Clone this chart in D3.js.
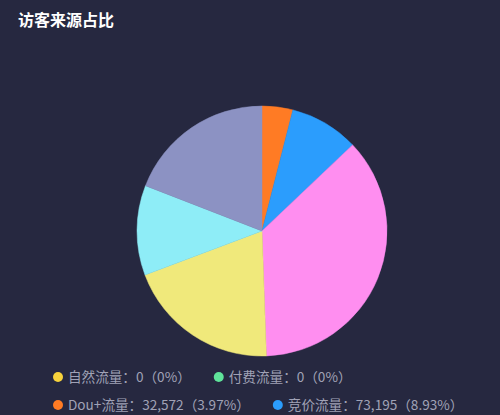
<!DOCTYPE html>
<html>
<head>
<meta charset="utf-8">
<script src="https://cdn.jsdelivr.net/npm/d3@7"></script>
<style>
  html, body { margin: 0; padding: 0; background: #262840; overflow: hidden; }
  svg { display: block; font-family: "Noto Sans CJK SC", "Noto Sans", sans-serif; }
</style>
</head>
<body>
<script>
var names = ["自然流量", "付费流量", "Dou+流量", "竞价流量", "短视频流量", "直播推荐", "关注页", "其他"];
var values = [0, 0, 32572, 73195, 299410, 162480, 95300, 156530];
var colors = ["#f7d23c", "#5fe39a", "#ff7b24", "#2b9dfd", "#ff8ef0", "#f0e97b", "#8eedf7", "#8c92c3"];

var width = 500, height = 415;
var cx = 262, cy = 231, radius = 125;

var svg = d3.select("body").append("svg")
  .attr("width", width)
  .attr("height", height);

svg.append("text")
  .attr("x", 18)
  .attr("y", 26)
  .attr("fill", "#ffffff")
  .attr("font-size", 16)
  .attr("font-weight", "bold")
  .text("访客来源占比");

var data = names.map(function (n, i) { return { name: n, value: values[i], color: colors[i] }; });
var total = d3.sum(values);

var pie = d3.pie().sort(null).value(function (d) { return d.value; });
var arc = d3.arc().innerRadius(0).outerRadius(radius);

svg.append("g")
  .attr("transform", "translate(" + cx + "," + cy + ")")
  .selectAll("path")
  .data(pie(data).filter(function (d) { return d.data.value > 0; }))
  .join("path")
  .attr("d", arc)
  .attr("fill", function (d) { return d.data.color; })
  .attr("stroke", function (d) { return d.data.color; })
  .attr("stroke-width", 0.5);

// legend, flowing left to right and wrapping
var fmt = d3.format(",");
function pct(v) {
  if (v === 0) return "0%";
  return (v / total * 100).toFixed(2) + "%";
}
var legend = svg.append("g");
var lx = 52, ly = 377, rowH = 28, maxX = 495, gap = 22;
var x = lx, y = ly;
data.forEach(function (d) {
  var g = legend.append("g");
  g.append("circle").attr("cx", 6).attr("cy", 0).attr("r", 5).attr("fill", d.color);
  var t = g.append("text")
    .attr("x", 16)
    .attr("y", 5)
    .attr("font-size", 13.6)
    .attr("fill", "#a0a2b6")
    .text(d.name + "：" + fmt(d.value) + "（" + pct(d.value) + "）");
  var w = 16 + t.node().getComputedTextLength();
  if (x + w > maxX && x > lx) { x = lx; y += rowH; }
  g.attr("transform", "translate(" + x + "," + y + ")");
  x += w + gap;
});
</script>
</body>
</html>
